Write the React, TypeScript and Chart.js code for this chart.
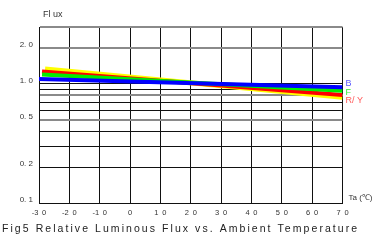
import React, { useEffect, useRef } from 'react';
import { Chart, registerables } from 'chart.js';
Chart.register(...registerables);

// Temperatures (°C) at which each curve starts / ends
const tempsB = [-30, 70];
const tempsF = [-29, 70];
const tempsR = [-29, 70];
const tempsY = [-28, 70];
// Relative luminous flux values
const fluxB = [1.10, 0.935];
const fluxF = [1.20, 0.875];
const fluxR = [1.27, 0.805];
const fluxY = [1.33, 0.771];

const yTickValues = [0.1, 0.2, 0.3, 0.4, 0.5, 0.6, 0.7, 0.8, 0.9, 1, 2, 3];
const yTickLabels: Record<string, string> = { '0.1': '0. 1', '0.2': '0. 2', '0.5': '0. 5', '1': '1. 0', '2': '2. 0' };
const yGreyLines = [3, 2, 0.8, 0.5];
const xTickValues = [-30, -20, -10, 0, 10, 20, 30, 40, 50, 60, 70];
const xTickLabels = ['-3\u20020', '-2\u20020', '-1\u20020', '0', '1\u20020', '2\u20020', '3\u20020', '4\u20020', '5\u20020', '6\u20020', '7\u20020'];

const yTitle = 'Fl ux';
const xTitle = 'Ta (\u2103)';
const caption = 'Fig5 Relative Luminous Flux vs. Ambient Temperature';
const seriesNames = ['B', 'F', 'R/ Y'];

const FONT = '"Liberation Sans", Arial, sans-serif';

const textPlugin = {
  id: 'texts',
  afterDraw(chart: any) {
    const ctx = chart.ctx as CanvasRenderingContext2D;
    const area = chart.chartArea;
    const ys = chart.scales.y;
    ctx.save();
    ctx.textBaseline = 'middle';
    ctx.textAlign = 'left';
    ctx.fillStyle = '#333';
    ctx.font = `9px ${FONT}`;
    ctx.fillText(yTitle, 43, 15);
    ctx.font = `8px ${FONT}`;
    ctx.fillText(xTitle, area.right + 6, 198);

    // series labels
    ctx.font = `9px ${FONT}`;
    const lastB = fluxB[fluxB.length - 1];
    const lastF = fluxF[fluxF.length - 1];
    const lastR = fluxR[fluxR.length - 1];
    ctx.fillStyle = '#5a5aff';
    ctx.fillText(seriesNames[0], area.right + 3, ys.getPixelForValue(lastB) - 4);
    ctx.fillStyle = '#33ee33';
    ctx.fillText(seriesNames[1], area.right + 3, ys.getPixelForValue(lastF) + 2);
    ctx.fillStyle = '#ff5a5a';
    ctx.fillText(seriesNames[2], area.right + 3, ys.getPixelForValue(lastR) + 5);

    // caption
    ctx.fillStyle = '#222';
    ctx.font = `10.5px ${FONT}`;
    const target = 355;
    const w = ctx.measureText(caption).width;
    const spacing = Math.max(0, (target - w) / (caption.length - 1));
    (ctx as any).letterSpacing = `${spacing.toFixed(2)}px`;
    ctx.fillText(caption, 2, 229);
    ctx.restore();
  },
};

export default function App() {
  const ref = useRef<HTMLCanvasElement | null>(null);
  useEffect(() => {
    if (!ref.current) return;
    const mk = (xs: number[], ys: number[]) => xs.map((x, i) => ({ x, y: ys[i] }));
    const chart = new Chart(ref.current, {
      type: 'line',
      data: {
        datasets: [
          { label: 'B', data: mk(tempsB, fluxB), borderColor: '#0000ff', borderWidth: 4, pointRadius: 0 },
          { label: 'F', data: mk(tempsF, fluxF), borderColor: '#00ee00', borderWidth: 4, pointRadius: 0 },
          { label: 'R', data: mk(tempsR, fluxR), borderColor: '#ff0000', borderWidth: 4, pointRadius: 0 },
          { label: 'Y', data: mk(tempsY, fluxY), borderColor: '#ffff00', borderWidth: 5, pointRadius: 0 },
        ],
      },
      options: {
        animation: false,
        responsive: false,
        events: [],
        layout: { padding: { left: 0, right: 36.5, top: 27, bottom: 0 } },
        plugins: { legend: { display: false }, tooltip: { enabled: false }, title: { display: false } },
        scales: {
          x: {
            type: 'linear',
            min: -30,
            max: 70,
            afterBuildTicks: (s: any) => { s.ticks = xTickValues.map((v) => ({ value: v })); },
            afterFit: (s: any) => { s.height = 41; },
            ticks: {
              autoSkip: false,
              maxRotation: 0,
              padding: 5,
              color: '#333',
              font: { size: 7.5, family: FONT },
              callback: (v: any) => xTickLabels[xTickValues.indexOf(Number(v))] ?? '',
            },
            grid: { color: '#111', lineWidth: 1, drawTicks: false },
            border: { color: '#111', width: 1 },
          },
          y: {
            type: 'logarithmic',
            min: 0.1,
            max: 3,
            afterBuildTicks: (s: any) => { s.ticks = yTickValues.map((v) => ({ value: v })); },
            afterFit: (s: any) => { s.width = 39; },
            ticks: {
              autoSkip: false,
              padding: 6,
              labelOffset: -3,
              color: '#333',
              font: { size: 8, family: FONT },
              callback: (v: any) => yTickLabels[String(Number(v))] ?? '',
            },
            grid: {
              drawTicks: false,
              color: (c: any) => (yGreyLines.includes(c.tick?.value) ? '#8a8a8a' : '#111'),
              lineWidth: (c: any) => (yGreyLines.includes(c.tick?.value) ? 2 : 1),
            },
            border: { color: '#111', width: 1 },
          },
        },
      },
      plugins: [textPlugin],
    } as any);
    return () => chart.destroy();
  }, []);
  return (
    <div style={{ position: 'fixed', left: 0, top: 0, width: 379, height: 244, background: '#fff' }}>
      <canvas ref={ref} width={379} height={244} style={{ display: 'block' }} />
    </div>
  );
}
